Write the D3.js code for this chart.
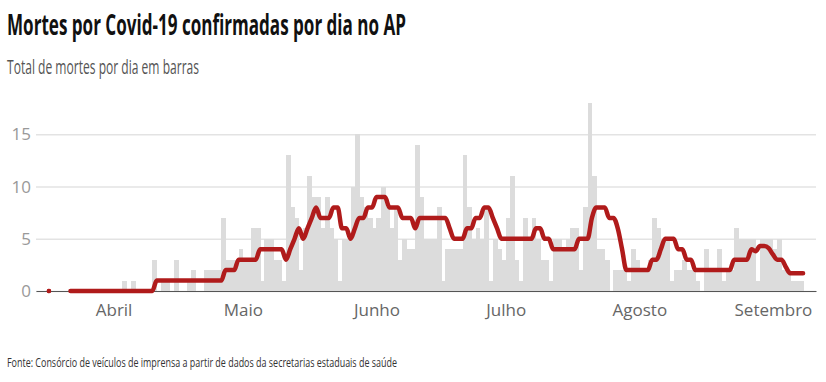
<!DOCTYPE html>
<html>
<head>
<meta charset="utf-8">
<script src="https://cdn.jsdelivr.net/npm/d3@7"></script>
<style>
    body { margin: 0; background: #fff; }
    svg { display: block; font-family: 'Open Sans', sans-serif; }
</style>
</head>
<body>
<div id="chart"></div>
<script>
// one value per day, starting on firstDay
const firstDay = '2020-03-14';
const lastDay = '2020-09-11';

const deaths = [
    0, 0, 0, 0, 0, 0, 0, 0, 0, 0, 0, 0, 0, 0, 0, 0, 0, 0, 0, 0,
    1, 0, 1, 0, 0, 0, 0, 3, 0, 1, 1, 0, 3, 0, 0, 1, 2, 0, 0, 2,
    2, 2, 2, 7, 3, 3, 3, 4, 3, 3, 6, 6, 1, 5, 5, 3, 3, 1, 13, 8,
    7, 2, 6, 11, 9, 9, 6, 9, 6, 5, 1, 5, 5, 10, 15, 9, 8, 7, 6, 7,
    10, 8, 6, 8, 3, 5, 4, 4, 14, 9, 5, 5, 5, 8, 1, 4, 4, 4, 4, 13,
    8, 5, 6, 5, 8, 1, 5, 4, 3, 7, 11, 3, 1, 7, 5, 7, 5, 3, 3, 1,
    5, 5, 4, 5, 6, 6, 2, 8, 18, 11, 4, 4, 3, 0, 2, 2, 2, 1, 4, 3,
    2, 2, 3, 7, 6, 5, 5, 1, 2, 2, 3, 2, 2, 1, 0, 4, 2, 2, 4, 1,
    2, 2, 6, 5, 5, 5, 5, 1, 5, 5, 5, 4, 5, 2, 2, 1, 1, 1
];

// moving average (red line), null where there is none
const average = [
    null, null, 0, null, null, null, null, 0, 0, 0, 0, 0, 0, 0, 0, 0, 0, 0, 0, 0,
    0, 0, 0, 0, 0, 0, 0, 1, 1, 1, 1, 1, 1, 1, 1, 1, 1, 1, 1, 1,
    1, 1, 1, 2, 2, 2, 3, 3, 3, 3, 3, 4, 4, 4, 4, 4, 4, 3, 4, 5,
    6, 5, 6, 7, 8, 7, 7, 7, 8, 8, 6, 6, 5, 6, 7, 7, 8, 8, 9, 9,
    9, 8, 8, 8, 7, 7, 7, 6, 7, 7, 7, 7, 7, 7, 7, 6, 5, 5, 5, 6,
    6, 7, 7, 8, 8, 7, 6, 5, 5, 5, 5, 5, 5, 5, 5, 6, 6, 5, 5, 4,
    4, 4, 4, 4, 4, 5, 5, 5, 7, 8, 8, 8, 7, 7, 6, 4, 2, 2, 2, 2,
    2, 2, 3, 3, 4, 5, 5, 5, 4, 4, 3, 3, 2, 2, 2, 2, 2, 2, 2, 2,
    2, 3, 3, 3, 3, 4, 3.8, 4.3, 4.3, 4.1, 3.5, 3, 3, 2.3, 1.7, 1.7, 1.7, 1.7
];

const yTicks = [0, 5, 10, 15];
const monthTicks = ['2020-04-01', '2020-05-01', '2020-06-01', '2020-07-01', '2020-08-01', '2020-09-01'];
const monthLabels = ['Abril', 'Maio', 'Junho', 'Julho', 'Agosto', 'Setembro'];

const title = 'Mortes por Covid-19 confirmadas por dia no AP';
const subtitle = 'Total de mortes por dia em barras';
const source = 'Fonte: Consórcio de veículos de imprensa a partir de dados da secretarias estaduais de saúde';

const width = 826;
const height = 382;
const plot = { left: 36, right: 816, top: 103, bottom: 291 };

const parseDay = d3.utcParse('%Y-%m-%d');
const start = parseDay(firstDay);
const days = deaths.map((count, i) => ({
    date: d3.utcDay.offset(start, i),
    count: count,
    avg: average[i]
}));

const xScale = d3.scaleUtc()
    .domain([start, parseDay(lastDay)])
    .range([plot.left, plot.right]);

const yScale = d3.scaleLinear()
    .domain([0, 18])
    .range([plot.bottom, plot.top]);

const svg = d3.select('#chart')
    .append('svg')
    .attr('width', width)
    .attr('height', height);

svg.append('text')
    .attr('x', 7)
    .attr('y', 35)
    .attr('textLength', 399)
    .attr('lengthAdjust', 'spacingAndGlyphs')
    .style('font-size', '28px')
    .style('font-weight', 700)
    .style('fill', '#111')
    .text(title);

svg.append('text')
    .attr('x', 7)
    .attr('y', 74)
    .attr('textLength', 192)
    .attr('lengthAdjust', 'spacingAndGlyphs')
    .style('font-size', '20px')
    .style('fill', '#555')
    .text(subtitle);

svg.append('text')
    .attr('x', 7)
    .attr('y', 367)
    .attr('textLength', 390)
    .attr('lengthAdjust', 'spacingAndGlyphs')
    .style('font-size', '13.5px')
    .style('fill', '#333')
    .text(source);

// grid + y labels
const yAxis = svg.append('g')
    .attr('transform', `translate(${plot.left},0)`)
    .call(d3.axisLeft(yScale)
        .tickValues(yTicks)
        .tickSize(-(plot.right - plot.left))
        .tickPadding(5));
yAxis.select('.domain').remove();
yAxis.selectAll('line').attr('stroke', '#e3e3e3').attr('stroke-width', 1.5);
yAxis.selectAll('text')
    .style('font-size', '17px')
    .style('font-family', "'Open Sans', sans-serif")
    .attr('fill', '#999');

// bars
const dayWidth = xScale(d3.utcDay.offset(start, 1)) - xScale(start);
svg.append('g')
    .attr('shape-rendering', 'crispEdges')
    .selectAll('rect')
    .data(days)
    .enter().append('rect')
    .attr('x', d => xScale(d.date))
    .attr('width', dayWidth + 0.5)
    .attr('y', d => yScale(d.count))
    .attr('height', d => yScale(0) - yScale(d.count))
    .style('fill', '#dcdcdc');

// x axis
const xAxis = svg.append('g')
    .attr('transform', `translate(0,${plot.bottom})`)
    .call(d3.axisBottom(xScale)
        .tickValues(monthTicks.map(parseDay))
        .tickFormat((d, i) => monthLabels[i])
        .tickSize(0)
        .tickSizeOuter(0)
        .tickPadding(13));
xAxis.select('.domain').attr('stroke', '#555').attr('stroke-width', 1.2);
xAxis.selectAll('text')
    .style('font-size', '17px')
    .style('font-family', "'Open Sans', sans-serif")
    .attr('fill', '#666');

// average line, each day's value is drawn at the end of that day
const lineX = d => xScale(d3.utcDay.offset(d.date, 1));
const line = d3.line()
    .defined(d => d.avg != null)
    .x(lineX)
    .y(d => yScale(d.avg))
    .curve(d3.curveMonotoneX);

svg.append('path')
    .datum(days)
    .attr('d', line)
    .style('fill', 'none')
    .style('stroke', '#b01b1b')
    .style('stroke-width', 4.5)
    .style('stroke-linecap', 'round')
    .style('stroke-linejoin', 'round');

// lone points have no segment, so mark them with a dot
const lonely = days.filter((d, i) => d.avg != null
    && (i === 0 || days[i - 1].avg == null)
    && (i === days.length - 1 || days[i + 1].avg == null));
svg.append('g')
    .selectAll('circle')
    .data(lonely)
    .enter().append('circle')
    .attr('cx', lineX)
    .attr('cy', d => yScale(d.avg))
    .attr('r', 2.2)
    .style('fill', '#b01b1b');
</script>
</body>
</html>
